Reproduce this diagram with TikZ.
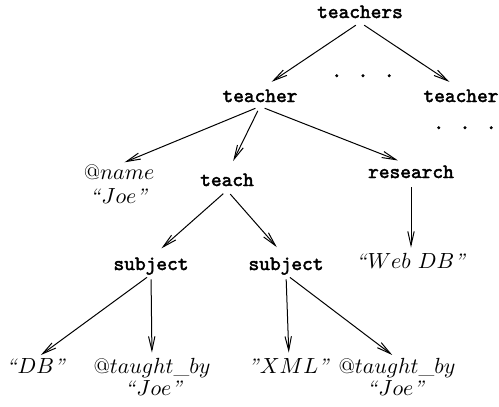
\documentclass[tikz,border=0pt]{standalone}
\usepackage{fontspec}
\newfontfamily\ttb{lmmono10-regular.otf}[FakeBold=2.2]
\usetikzlibrary{arrows.meta}
\newcommand{\qo}{\textit{``}}
\newcommand{\qc}{\textit{''}}
\tikzset{
  tt/.style={font=\ttb\fontsize{10.2}{12}\selectfont, inner sep=0pt, text height=6pt, text depth=2pt, anchor=base},
  it/.style={font=\fontsize{10.5}{12}\selectfont, inner sep=0pt, text height=7pt, text depth=2pt, anchor=base},
  dots/.style={font=\ttb\fontsize{10.2}{12}\selectfont, inner sep=0pt, anchor=base},
  arr/.style={draw, line width=0.5pt, -{Straight Barb[length=7pt,width=3.2pt]}, shorten <=2.5pt},
  tot/.style={arr, shorten >=7pt},
  toi/.style={arr, shorten >=3pt},
}
\begin{document}
\begin{tikzpicture}[x=0.5pt,y=-0.5pt]
\useasboundingbox (0,0) rectangle (499,407);
% nodes
\node[tt] (teachers) at (360,18) {teachers};
\node[tt] (teacherA) at (260,102) {teacher};
\node[tt] (teacherB) at (461,102) {teacher};
\node[dots] (dotsA) at (363,77) {.\hskip7.75pt.\hskip7.75pt.};
\node[dots] (dotsB) at (465,129) {.\hskip7.75pt.\hskip7.75pt.};
\node[it] (name) at (119,179) {$@name$};
\node[it] (nameval) at (119,203) {\qo$Joe$\qc};
\node[tt] (teach) at (227,186) {teach};
\node[tt] (research) at (411,178) {research};
\node[it] (webdb) at (411,268) {\qo$Web\ DB$\qc};
\node[tt] (subjA) at (151,270) {subject};
\node[tt] (subjB) at (286,270) {subject};
\node[it] (db) at (36,373) {\qo$DB$\qc};
\node[it] (tbA) at (152,373) {$@taught\_by$};
\node[it] (tbAv) at (154,395) {\qo$Joe$\qc};
\node[it] (xml) at (289,373) {\qc$XML$\qc};
\node[it] (tbB) at (397,373) {$@taught\_by$};
\node[it] (tbBv) at (396,395) {\qo$Joe$\qc};
% connectors
\draw[tot] (teachers.south) -- (teacherA.north);
\draw[tot] (teachers.south) -- (teacherB.north);
\draw[toi] (teacherA.south) -- (name.north);
\draw[tot] (teacherA.south) -- (teach.north);
\draw[tot] (teacherA.south) -- (research.north);
\draw[tot] (teach.south) -- (subjA.north);
\draw[tot] (teach.south) -- (subjB.north);
\draw[toi] (research.south) -- (webdb.north);
\draw[toi] (subjA.south) -- (db.north);
\draw[toi] (subjA.south) -- (tbA.north);
\draw[toi] (subjB.south) -- (xml.north);
\draw[toi] (subjB.south) -- (tbB.north);
\end{tikzpicture}
\end{document}
